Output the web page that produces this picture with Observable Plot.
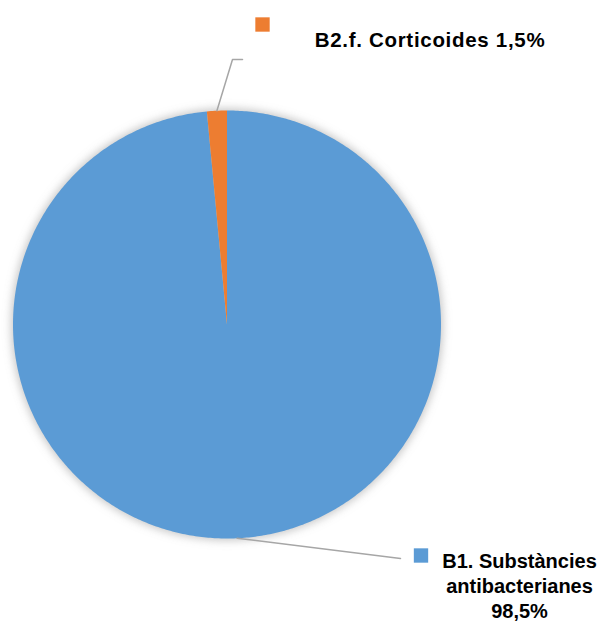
<!DOCTYPE html>
<html><head><meta charset="utf-8">
<script src="https://cdn.jsdelivr.net/npm/d3@7"></script>
<script src="https://cdn.jsdelivr.net/npm/@observablehq/plot@0.6"></script>
<style>
html,body{margin:0;padding:0;background:#fff;}
</style>
</head><body>
<div id="chart"></div>
<script>
const categories = ["B1. Substàncies antibacterianes", "B2.f. Corticoides"];
const values = [98.5, 1.5];
const valueLabels = ["98,5%", "1,5%"];
const colors = ["#5B9BD5", "#ED7D31"];

const W = 612, H = 631;
const CX = 226.5, CY = 324, R = 214;
// helpers convert pixel layout positions to data units (radius = 1)
const ux = p => (p - CX) / R;
const uy = p => (p - CY) / R;

const pie = d3.pie().sort(null).value(d => d.value)(categories.map((c, i) => ({cat: c, value: values[i], color: colors[i]})));
const pts = [];
pie.forEach((s, i) => {
  const n = Math.max(4, Math.ceil((s.endAngle - s.startAngle) / 0.01));
  pts.push({key: i, color: s.data.color, x: 0, y: 0});
  for (let k = 0; k <= n; k++) {
    const a = s.startAngle + (s.endAngle - s.startAngle) * k / n;
    pts.push({key: i, color: s.data.color, x: Math.sin(a), y: -Math.cos(a)});
  }
});
const mid = pie.map(s => (s.startAngle + s.endAngle) / 2);
const edge = mid.map(a => ({x: Math.sin(a), y: -Math.cos(a)}));

const leaders = [
  {key: 0, x: edge[0].x, y: edge[0].y}, {key: 0, x: ux(400), y: uy(558)},
  {key: 1, x: edge[1].x, y: edge[1].y}, {key: 1, x: ux(232), y: uy(59)}, {key: 1, x: ux(242), y: uy(59)}
];
const keys = [
  {x: ux(420.5), y: uy(555), color: colors[0]},
  {x: ux(262), y: uy(24), color: colors[1]}
];
const textsB = [
  {x: ux(519), y: uy(567), t: "B1. Substàncies"},
  {x: ux(519), y: uy(592), t: "antibacterianes"},
  {x: ux(519), y: uy(617), t: valueLabels[0]}
];
const textsT = [
  {x: ux(429.5), y: uy(46), t: categories[1] + " " + valueLabels[1]}
];

const chart = Plot.plot({
  width: W, height: H,
  margin: 0,
  x: {domain: [ux(0), ux(W)], range: [0, W], axis: null},
  y: {domain: [uy(0), uy(H)], range: [0, H], axis: null},
  marks: [
    Plot.dot([{x: 0, y: 0}], {x: "x", y: "y", r: R + 2, fill: "#999", fillOpacity: 0.55, stroke: "none"}),
    Plot.line(pts, {x: "x", y: "y", z: "key", fill: "color", stroke: "none", curve: "linear-closed"}),
    Plot.line(leaders, {x: "x", y: "y", z: "key", stroke: "#a6a6a6", strokeWidth: 1.5}),
    Plot.dot(keys, {x: "x", y: "y", symbol: "square", r: 8.1, fill: "color", stroke: "none"}),
    Plot.text(textsB, {x: "x", y: "y", text: "t", textAnchor: "middle", lineAnchor: "bottom", fontSize: 20, fontWeight: "bold", fill: "#000"}),
    Plot.text(textsT, {x: "x", y: "y", text: "t", textAnchor: "middle", lineAnchor: "bottom", fontSize: 20.5, fontWeight: "bold", fill: "#000"})
  ],
  style: {fontFamily: "'Liberation Sans', Arial, sans-serif", background: "#fff"}
});
// soft shadow under the pie
const svg = d3.select(chart);
svg.append("defs").html('<filter id="sh" x="-20%" y="-20%" width="140%" height="140%"><feGaussianBlur stdDeviation="4"/></filter>');
svg.select("g[aria-label=dot]").attr("filter", "url(#sh)");
svg.selectAll("g[aria-label=text]").filter((d, i) => i === 1).attr("letter-spacing", "0.7px");
document.getElementById("chart").appendChild(chart);
</script>
</body></html>
